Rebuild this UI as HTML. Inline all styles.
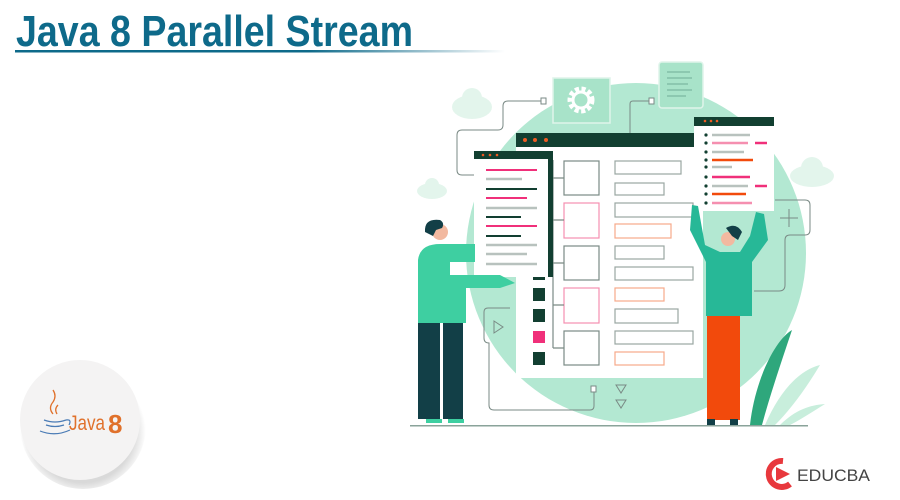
<!DOCTYPE html>
<html><head><meta charset="utf-8"><style>
html,body{margin:0;padding:0;background:#fff;width:900px;height:500px;overflow:hidden}
svg{display:block}
</style></head><body>
<svg width="900" height="500" viewBox="0 0 900 500" xmlns="http://www.w3.org/2000/svg">
<defs>
<linearGradient id="ul" x1="0" x2="1"><stop offset="0" stop-color="#0e6a8a"/><stop offset="0.6" stop-color="#0e6a8a"/><stop offset="1" stop-color="#0e6a8a" stop-opacity="0"/></linearGradient>
<radialGradient id="sh" cx="0.5" cy="0.55" r="0.5"><stop offset="0.8" stop-color="#000" stop-opacity="0.15"/><stop offset="1" stop-color="#000" stop-opacity="0"/></radialGradient>
</defs>
<!-- title -->
<text x="16" y="46" font-family="Liberation Sans, sans-serif" font-weight="bold" font-size="44" fill="#0e6a8a" textLength="397" lengthAdjust="spacingAndGlyphs">Java 8 Parallel Stream</text>
<rect x="15" y="50" width="490" height="2.5" fill="url(#ul)"/>

<!-- big circle -->
<circle cx="636" cy="253" r="170" fill="#b3e8d2"/>
<!-- clouds -->
<g fill="#e3f5ec">
<ellipse cx="472" cy="107" rx="20" ry="12"/><circle cx="472" cy="98" r="10"/>
<ellipse cx="432" cy="191" rx="15" ry="8"/><circle cx="432" cy="185" r="7"/>
<ellipse cx="812" cy="176" rx="22" ry="11"/><circle cx="812" cy="168" r="11"/>
</g>
<!-- connectors -->
<g fill="none" stroke="#7a8a85" stroke-width="1">
<path d="M543 101 H508 Q503 101 503 106 V125 Q503 130 498 130 H462 Q457 130 457 135 V170 Q457 175 462 175 H475"/>
<rect x="541" y="98" width="5" height="6" fill="#fff"/>
<path d="M650 101 H633 Q630 101 630 104 V133"/>
<rect x="649" y="98" width="5" height="6" fill="#fff"/>
<path d="M775 200 H805 Q810 200 810 205 V230 Q810 235 805 235 H790 Q785 235 785 240 V285 Q785 291 779 291 H754"/>
<path d="M510 308 H488 Q484 308 484 312 V338 Q484 343 489 343 V405 Q489 410 494 410 H590 Q594 410 594 406 V390"/>
<rect x="591" y="386" width="5" height="6" fill="#fff"/>
<path d="M789 209 V227 M780 218 H798"/>
<path d="M494 321 L503 327 L494 333 Z"/>
<path d="M616 385 L626 385 L621 393 Z"/><path d="M616 400 L626 400 L621 408 Z"/>
</g>
<!-- gear box -->
<rect x="553" y="78" width="57" height="45" fill="#a8e3c9" stroke="#dff4ea" stroke-width="1.5"/>
<circle cx="581" cy="100" r="11" fill="none" stroke="#fff" stroke-width="5" stroke-dasharray="4 2.5"/>
<circle cx="581" cy="100" r="8" fill="none" stroke="#fff" stroke-width="3"/>
<!-- doc box -->
<rect x="659" y="62" width="44" height="46" rx="3" fill="#a8e3c9" stroke="#dff4ea" stroke-width="1.5"/>
<g stroke="#6fae96" stroke-width="1"><path d="M667 72H690M667 78H692M667 84H688M667 90H692M667 96H686"/></g>

<!-- main window -->
<rect x="516" y="133" width="187" height="245" fill="#fff"/>
<rect x="516" y="133" width="187" height="14" fill="#123f31"/>
<g fill="#f05a22"><circle cx="525" cy="140" r="2"/><circle cx="535" cy="140" r="2"/><circle cx="546" cy="140" r="2"/></g>
<g fill="none" stroke-width="1.2">
<rect x="564" y="161" width="35" height="34" stroke="#7a8a85"/>
<rect x="564" y="203" width="35" height="35" stroke="#f58fb0"/>
<rect x="564" y="246" width="35" height="34" stroke="#7a8a85"/>
<rect x="564" y="288" width="35" height="35" stroke="#f58fb0"/>
<rect x="564" y="331" width="35" height="34" stroke="#7a8a85"/>
<path d="M553 178 H564 M553 220 H564 M553 263 H564 M553 305 H564 M553 348 H564 M553 160 V348" stroke="#7a8a85"/>
<rect x="615" y="161" width="66" height="13" stroke="#9aa6a2"/>
<rect x="615" y="183" width="49" height="12" stroke="#9aa6a2"/>
<rect x="615" y="203" width="78" height="14" stroke="#9aa6a2"/>
<rect x="615" y="224" width="56" height="14" stroke="#f7a98a"/>
<rect x="615" y="246" width="49" height="13" stroke="#9aa6a2"/>
<rect x="615" y="267" width="78" height="13" stroke="#9aa6a2"/>
<rect x="615" y="288" width="49" height="13" stroke="#f7a98a"/>
<rect x="615" y="309" width="63" height="14" stroke="#9aa6a2"/>
<rect x="615" y="331" width="78" height="13" stroke="#9aa6a2"/>
<rect x="615" y="352" width="49" height="13" stroke="#f7a98a"/>
</g>
<g fill="#123f31"><rect x="533" y="277" width="12" height="3"/><rect x="533" y="288" width="12" height="13"/><rect x="533" y="309" width="12" height="13"/><rect x="533" y="352" width="12" height="13"/></g>
<rect x="533" y="331" width="12" height="12" fill="#f0307a"/>

<!-- left window -->
<rect x="474" y="151" width="79" height="126" fill="#fff"/>
<rect x="474" y="151" width="79" height="8" fill="#123f31"/>
<rect x="548" y="151" width="5" height="126" fill="#123f31"/>
<g fill="#f05a22"><circle cx="483" cy="155" r="1.3"/><circle cx="490" cy="155" r="1.3"/><circle cx="497" cy="155" r="1.3"/></g>
<g stroke-width="2">
<path d="M486 170H537" stroke="#f0307a"/><path d="M486 179H522" stroke="#b8c2be" stroke-width="2.5"/>
<path d="M486 189H537" stroke="#123f31"/><path d="M486 198H527" stroke="#f0307a"/>
<path d="M486 208H537" stroke="#b8c2be" stroke-width="2.5"/><path d="M486 217H521" stroke="#123f31"/>
<path d="M486 226H537" stroke="#f0307a"/><path d="M486 236H521" stroke="#123f31"/>
<path d="M486 245H537" stroke="#b8c2be" stroke-width="2.5"/><path d="M486 254H527" stroke="#b8c2be" stroke-width="2.5"/>
<path d="M486 264H537" stroke="#b8c2be" stroke-width="2.5"/>
</g>

<!-- right window -->
<rect x="694" y="117" width="80" height="94" fill="#fff"/>
<rect x="694" y="117" width="80" height="9" fill="#123f31"/>
<g fill="#f05a22"><circle cx="705" cy="121" r="1.3"/><circle cx="711" cy="121" r="1.3"/><circle cx="717" cy="121" r="1.3"/></g>
<g fill="#123f31"><circle cx="706" cy="135" r="1.6"/><circle cx="706" cy="143" r="1.6"/><circle cx="706" cy="152" r="1.6"/><circle cx="706" cy="160" r="1.6"/><circle cx="706" cy="167" r="1.6"/><circle cx="706" cy="177" r="1.6"/><circle cx="706" cy="186" r="1.6"/><circle cx="706" cy="194" r="1.6"/><circle cx="706" cy="203" r="1.6"/></g>
<g stroke-width="2.5">
<path d="M712 135H750" stroke="#b8c2be"/><path d="M712 143H748" stroke="#f58fb0"/><path d="M755 143H767" stroke="#f0307a"/>
<path d="M712 152H744" stroke="#b8c2be"/><path d="M712 160H753" stroke="#f24a0c"/><path d="M712 167H732" stroke="#b8c2be"/>
<path d="M712 177H750" stroke="#f0307a"/><path d="M712 186H748" stroke="#b8c2be"/><path d="M755 186H767" stroke="#f0307a"/>
<path d="M712 194H746" stroke="#f24a0c"/><path d="M712 203H752" stroke="#f58fb0"/>
</g>

<!-- plant -->
<g fill="#2ea77c"><path d="M750 425 C755 380 775 340 792 330 C782 360 770 395 762 425 Z"/></g>
<g fill="#c8eedc"><path d="M765 425 C780 390 800 370 820 365 C805 390 790 410 775 425 Z"/><path d="M780 425 C795 410 810 405 825 404 C812 412 800 420 790 425 Z"/></g>

<!-- left person -->
<rect x="418" y="321" width="22" height="98" fill="#123f47"/>
<rect x="443" y="321" width="20" height="98" fill="#123f47"/>
<path d="M418 260 Q420 244 440 244 L475 244 L475 262 L450 262 L450 275 L500 275 L515 283 L500 288 L466 288 L466 323 L418 323 Z" fill="#3ecfa1"/>
<circle cx="440" cy="232" r="8" fill="#f2b9a0"/>
<path d="M425 232 Q424 218 440 220 Q445 223 442 228 L436 230 L433 236 Z" fill="#123f47"/>
<path d="M426 419 h16 v4 h-16z M448 419 h16 v4 h-16z" fill="#3ecfa1"/>

<!-- right person -->
<rect x="707" y="314" width="17" height="106" fill="#f24a0c"/>
<rect x="724" y="314" width="16" height="106" fill="#f24a0c"/>
<path d="M692 205 L698 206 L705 245 L720 252 L740 252 L750 236 L756 212 L764 214 L768 240 L752 262 L752 316 L706 316 L706 262 L690 230 Z" fill="#27b897"/>
<circle cx="728" cy="239" r="7" fill="#f2b9a0"/>
<path d="M726 228 Q736 222 742 232 L738 240 L732 236 Z" fill="#123f47"/>
<rect x="707" y="419" width="8" height="6" fill="#123f47"/><rect x="730" y="419" width="8" height="6" fill="#123f47"/>

<!-- ground -->
<rect x="410" y="425" width="398" height="1.5" fill="#8aa39a"/>

<!-- java logo circle -->
<circle cx="83" cy="426" r="63" fill="url(#sh)"/>
<circle cx="80" cy="420" r="60" fill="#f4f3f3"/>
<g fill="none" stroke="#e0712b" stroke-width="1.3"><path d="M53 414 Q48 408 53 402 Q57 396 53 390"/><path d="M57 414 Q54 409 58 405"/></g>
<g fill="none" stroke="#4a7bb5" stroke-width="1.2"><path d="M44 420 Q55 424 66 420"/><path d="M46 425 Q55 428 64 425"/><path d="M40 431 Q55 437 70 430"/><path d="M66 420 Q72 419 69 425"/></g>
<text x="69" y="430" font-family="Liberation Sans, sans-serif" font-size="21" fill="#e0712b" textLength="36" lengthAdjust="spacingAndGlyphs">Java</text>
<text x="108" y="433" font-family="Liberation Sans, sans-serif" font-size="26" font-weight="bold" fill="#e0712b">8</text>

<!-- educba -->
<path d="M783 461 A13 13 0 1 0 790 484" fill="none" stroke="#e8383d" stroke-width="6"/>
<path d="M776 467 L790 474 L776 481 Z" fill="#e8383d"/>
<text x="797" y="481" font-family="Liberation Sans, sans-serif" font-size="17" fill="#444" textLength="73" lengthAdjust="spacingAndGlyphs">EDUCBA</text>
</svg>
</body></html>
